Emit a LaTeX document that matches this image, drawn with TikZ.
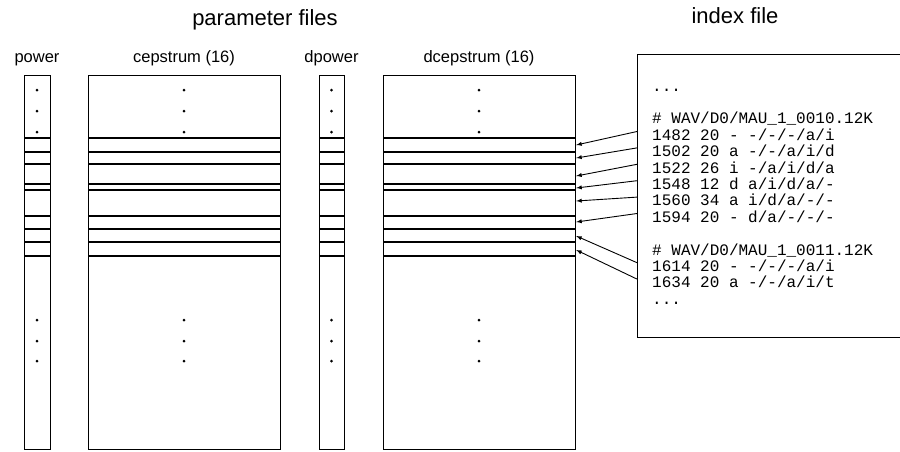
\documentclass[tikz,border=0pt]{standalone}
\usepackage{fontspec}
\setmainfont{Liberation Sans}
\newfontfamily\idxfont{Liberation Mono}
\usetikzlibrary{calc}
\begin{document}
\begin{tikzpicture}[>=latex, x=1pt, y=-1pt]
	\tikzset{
		frame/.style={line width=1.2pt},
		colbox/.style={draw, frame, anchor=north west, inner sep=0, minimum height=374pt},
		collabel/.style={anchor=base, font=\fontsize{16.5}{18}\selectfont},
		title/.style={anchor=base, font=\fontsize{22}{24}\selectfont},
		idxline/.style={anchor=base west, inner sep=0, font=\idxfont\fontsize{16}{16}\selectfont},
		dot/.style={circle, fill, inner sep=0, minimum size=3pt},
	}
	\useasboundingbox (0,0) rectangle (900,451);
	\node[title] (partitle) at (265,25) {parameter files};
	\node[title] (idxtitle) at (735,23) {index file};
	% the four parameter columns
	\foreach \l/\r/\name/\lab in {24/50/pow/power, 88/280/cep/cepstrum (16), 319/344/dpow/dpower, 383/575/dcep/dcepstrum (16)}
		{
			\node[colbox, minimum width={\r-\l}] (\name) at (\l,75) {};
			\node[collabel] (\name-lab) at ({(\l+\r)/2},62) {\lab};
			\foreach \y in {138,152,164,184,190,216,229,242,256}{
					\draw[frame] (\l,\y) -- (\r,\y);
				}
			\foreach \y in {90,111,132,320,341,361}{
					\node[dot] (\name-dot\y) at ({(\l+\r)/2},\y) {};
				}
		}
	% index file
	\node[draw, frame, anchor=north west, inner sep=0, minimum width=300pt, minimum height=283pt] (idx) at (637,54) {};
	\node[idxline] (l0) at (652,91) {.{}.{}.};
	\node[idxline] (l13) at (652,{91+16.4*13}) {.{}.{}.};
	\foreach \k/\txt in {2/{\# WAV/D0/MAU\_1\_0010.12K}, 3/{1482 20 - -/-/-/a/i}, 4/{1502 20 a -/-/a/i/d}, 5/{1522 26 i -/a/i/d/a}, 6/{1548 12 d a/i/d/a/-}, 7/{1560 34 a i/d/a/-/-}, 8/{1594 20 - d/a/-/-/-}, 10/{\# WAV/D0/MAU\_1\_0011.12K}, 11/{1614 20 - -/-/-/a/i}, 12/{1634 20 a -/-/a/i/t}}
		{
			\node[idxline] (l\k) at (652,{91+16.4*\k}) {\txt};
		}
	\foreach \k/\y in {3/145, 4/158, 5/176, 6/188, 7/201, 8/222, 11/236, 12/250}
		{
			\coordinate (tip\k) at (dcep.east |- 0,\y);
			\draw[->, line width=0.9pt] ($(idx.west |- l\k.west)+(0,-3)$) -- (tip\k);
		}
\end{tikzpicture}
\end{document}
